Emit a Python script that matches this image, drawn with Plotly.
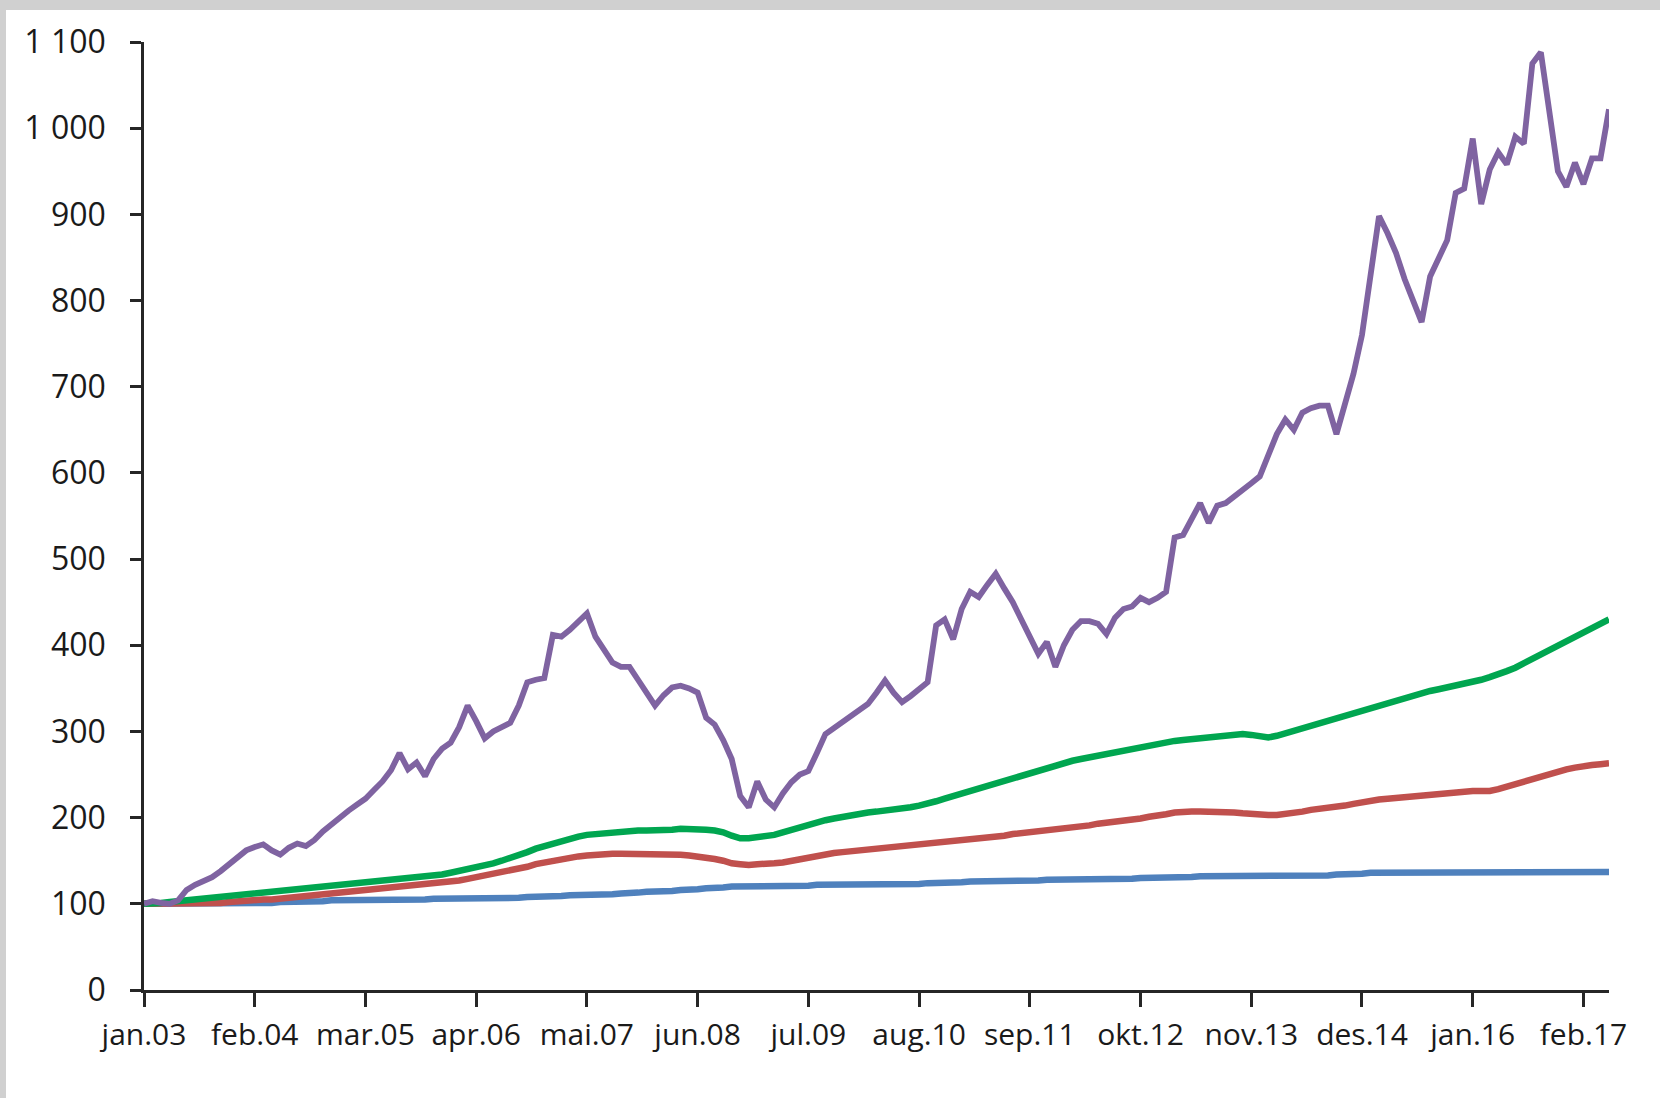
import plotly.graph_objects as go

# ---- data ----
NOR_MONTHS = ["jan", "feb", "mar", "apr", "mai", "jun", "jul", "aug", "sep", "okt", "nov", "des"]
CATEGORIES = [f"{m}.{y:02d}" for y in range(3, 18) for m in NOR_MONTHS][:173]  # jan.03 .. mai.17

X_TICK_LABELS = ["jan.03", "feb.04", "mar.05", "apr.06", "mai.07", "jun.08", "jul.09",
                 "aug.10", "sep.11", "okt.12", "nov.13", "des.14", "jan.16", "feb.17"]
Y_TICK_VALUES = [0, 100, 200, 300, 400, 500, 600, 700, 800, 900, 1000, 1100]
Y_TICK_LABELS = ["0", "100", "200", "300", "400", "500", "600", "700", "800", "900", "1 000", "1 100"]

blue = [
    100, 100, 100, 100, 100, 100, 100, 100, 101, 101, 101, 101, 101, 101, 101, 101, 102, 102, 102, 102,
    103, 103, 104, 104, 105, 105, 105, 105, 105, 105, 105, 105, 105, 105, 106, 106, 106, 106, 106, 106,
    107, 107, 107, 107, 107, 108, 108, 108, 109, 109, 110, 110, 110, 111, 111, 111, 112, 112, 113, 114,
    114, 115, 115, 116, 116, 117, 118, 118, 119, 120, 120, 120, 120, 120, 120, 120, 120, 121, 121, 122,
    122, 122, 122, 122, 123, 123, 123, 123, 123, 123, 123, 123, 124, 124, 124, 125, 125, 126, 126, 126,
    126, 126, 126, 126, 127, 127, 128, 128, 128, 128, 129, 129, 129, 129, 129, 129, 129, 130, 130, 130,
    130, 130, 131, 131, 132, 132, 132, 132, 132, 132, 132, 132, 133, 133, 133, 133, 133, 133, 133, 133,
    134, 134, 135, 135, 136, 136, 136, 136, 136, 136, 136, 136, 136, 136, 136, 136, 136, 136, 136, 136,
    136, 136, 136, 136, 136, 137, 137, 137, 137, 137, 137, 137, 137,
]

red = [
    100, 100, 100, 100, 100, 100, 100, 100, 101, 101, 102, 103, 103, 104, 105, 105, 106, 107, 107, 108,
    109, 110, 111, 112, 113, 115, 116, 117, 118, 119, 120, 121, 121, 122, 123, 124, 125, 127, 129, 131,
    132, 134, 136, 138, 140, 143, 146, 148, 150, 152, 154, 155, 156, 157, 157, 158, 158, 158, 158, 158,
    158, 158, 158, 157, 156, 155, 154, 152, 150, 147, 146, 145, 146, 146, 147, 148, 150, 152, 154, 156,
    158, 159, 160, 161, 162, 163, 164, 165, 166, 166, 167, 168, 169, 170, 171, 172, 173, 174, 175, 176,
    178, 179, 181, 182, 184, 185, 186, 187, 188, 189, 190, 191, 193, 194, 195, 196, 198, 199, 201, 202,
    204, 206, 207, 207, 207, 207, 207, 207, 206, 205, 204, 203, 203, 203, 204, 205, 207, 209, 210, 211,
    212, 214, 216, 218, 220, 221, 222, 223, 224, 225, 226, 227, 228, 229, 230, 231, 231, 231, 231, 233,
    236, 239, 242, 245, 248, 251, 254, 256, 258, 260, 261, 262, 263,
]

green = [
    100, 100, 101, 102, 103, 104, 105, 106, 107, 108, 109, 110, 111, 112, 113, 114, 115, 116, 116, 117,
    118, 119, 120, 121, 122, 123, 124, 125, 126, 127, 128, 129, 130, 131, 132, 134, 136, 138, 140, 143,
    145, 147, 150, 153, 156, 160, 164, 167, 170, 173, 176, 178, 180, 181, 182, 183, 184, 184, 185, 185,
    185, 186, 186, 187, 187, 187, 186, 185, 183, 179, 176, 176, 177, 178, 180, 183, 186, 189, 192, 195,
    197, 199, 201, 203, 204, 206, 207, 208, 209, 210, 212, 214, 216, 219, 222, 225, 228, 231, 234, 237,
    240, 243, 246, 249, 252, 255, 258, 261, 264, 266, 268, 270, 272, 274, 276, 278, 280, 282, 284, 286,
    288, 289, 290, 291, 292, 294, 295, 296, 297, 297, 296, 294, 293, 295, 298, 301, 303, 306, 309, 312,
    315, 318, 321, 324, 327, 330, 333, 336, 339, 342, 345, 347, 349, 351, 353, 355, 357, 360, 363, 366,
    370, 374, 379, 384, 389, 394, 399, 405, 410, 415, 420, 425, 430,
]

purple = [
    100, 103, 101, 100, 104, 116, 122, 127, 131, 138, 146, 155,
    162, 166, 169, 162, 157, 165, 170, 167, 174, 184, 192, 202,
    208, 215, 222, 232, 242, 255, 275, 256, 264, 248, 268, 280,
    287, 305, 330, 312, 292, 300, 305, 310, 330, 357, 360, 362,
    412, 410, 418, 428, 437, 410, 395, 380, 375, 375, 360, 345,
    330, 342, 351, 353, 350, 345, 316, 308, 290, 268, 225, 212,
    242, 221, 212, 228, 241, 250, 254, 275, 297, 304, 311, 318,
    325, 332, 345, 359, 345, 334, 341, 350, 357, 423, 430, 407,
    442, 462, 456, 470, 483, 466, 450, 430, 410, 390, 404, 375,
    400, 418, 428, 428, 425, 413, 432, 442, 445, 455, 450, 455,
    462, 525, 528, 545, 565, 542, 562, 565, 572, 580, 588, 596,
    620, 645, 662, 650, 670, 675, 678, 678, 645, 680, 715, 760,
    830, 898, 878, 855, 825, 800, 775, 828, 848, 870, 925, 930,
    988, 912, 952, 972, 958, 990, 982, 1075, 1088, 1020, 950, 932,
    960, 935, 965, 965, 1022,
]

SERIES = [
    ("Serie 1", blue, "#4F81BD", 6.5),
    ("Serie 2", red, "#C0504D", 6.5),
    ("Serie 3", green, "#00A650", 6.5),
    ("Serie 4", purple, "#7F63A1", 5.8),
]

# ---- figure ----
W, H = 1660, 1098
L, R, T, B = 144, 51, 42, 108

fig = go.Figure()
for name, vals, color, lw in SERIES:
    fig.add_trace(go.Scatter(
        x=CATEGORIES, y=vals, name=name, mode="lines",
        line=dict(color=color, width=lw),
    ))

pw = W - L - R
ph = H - T - B
def px_x(p):
    return (p - L) / pw
def px_y(p):
    return (H - B - p) / ph

# photographed backdrop: grey border strips at top and left
fig.add_shape(type="rect", xref="paper", yref="paper",
              x0=px_x(-20), x1=px_x(W + 20), y0=px_y(-20), y1=px_y(H + 20),
              fillcolor="#d0d0d0", line=dict(width=0), layer="below")
fig.add_shape(type="rect", xref="paper", yref="paper",
              x0=px_x(6), x1=px_x(W + 20), y0=px_y(10), y1=px_y(H + 20),
              fillcolor="white", line=dict(width=0), layer="below")

axis_color = "#262626"
fig.update_layout(
    width=W, height=H,
    margin=dict(l=L, r=R, t=T, b=B, pad=0),
    paper_bgcolor="white", plot_bgcolor="rgba(0,0,0,0)",
    showlegend=False,
    font=dict(family="Open Sans", size=30, color="#1a1a1a"),
    xaxis=dict(
        type="category", categoryorder="array", categoryarray=CATEGORIES,
        range=[0, len(CATEGORIES) - 1],
        tickmode="array", tickvals=X_TICK_LABELS, ticktext=X_TICK_LABELS,
        showgrid=False, zeroline=False,
        showline=True, linecolor=axis_color, linewidth=2.5,
        ticks="outside", ticklen=14, tickwidth=2.5, tickcolor=axis_color,
        tickangle=0, ticklabelstandoff=2,
        tickfont=dict(family="Open Sans", size=30, color="#1a1a1a"),
    ),
    yaxis=dict(
        range=[0, 1100],
        tickmode="array", tickvals=Y_TICK_VALUES, ticktext=Y_TICK_LABELS,
        showgrid=False, zeroline=False,
        showline=True, linecolor=axis_color, linewidth=2.5,
        ticks="outside", ticklen=11, tickwidth=2.5, tickcolor=axis_color,
        ticklabelstandoff=18,
        tickfont=dict(family="Open Sans", size=32, color="#1a1a1a"),
    ),
)

fig.write_html(
    "out.html",
    config={"displayModeBar": False},
    post_script="document.body.style.margin='0px';document.body.style.overflow='hidden';",
)
